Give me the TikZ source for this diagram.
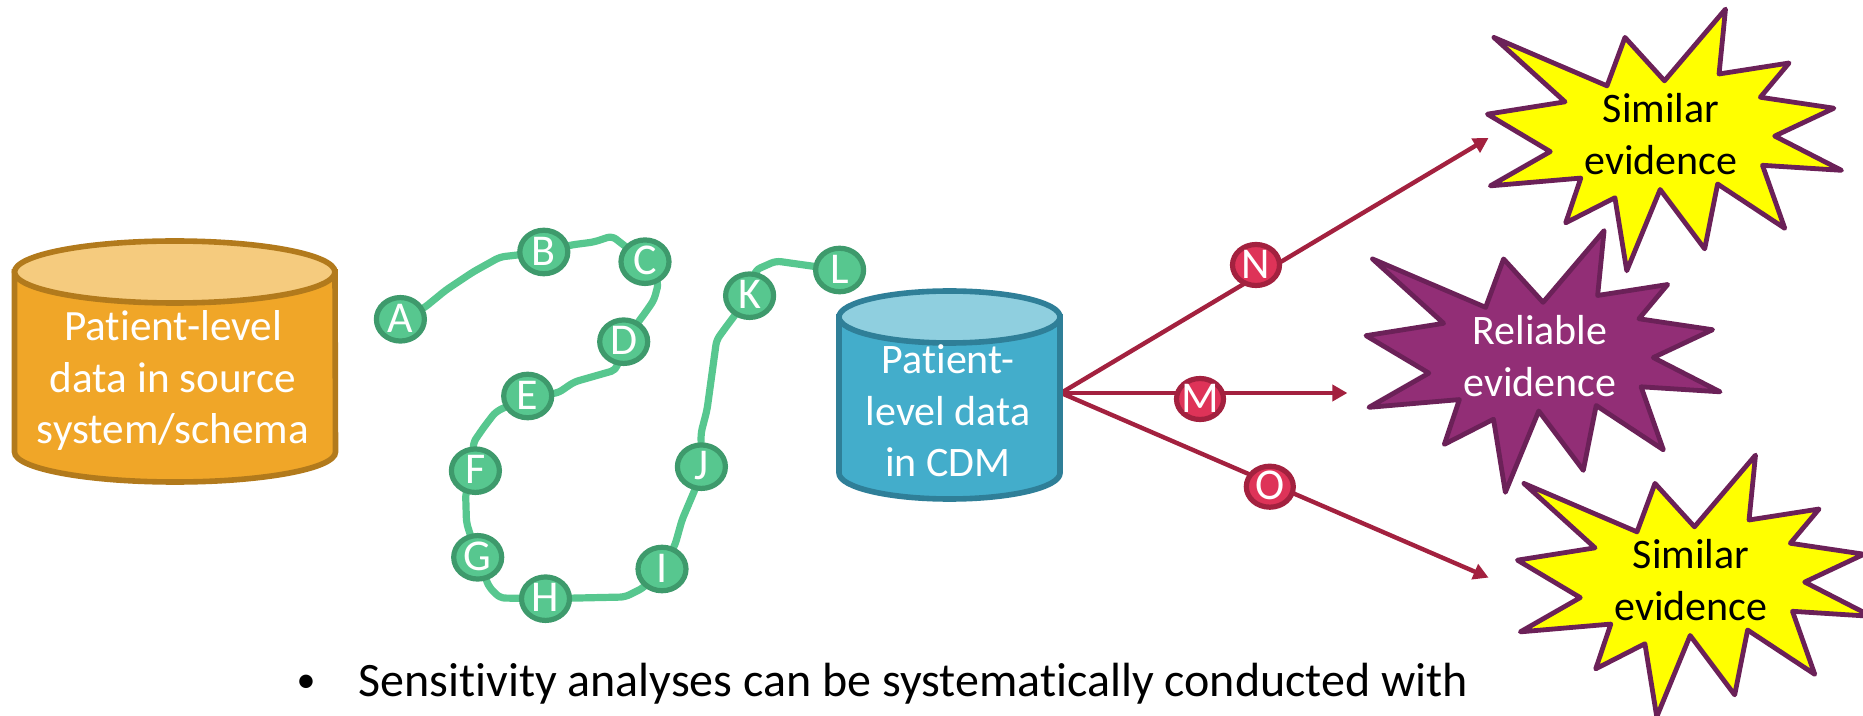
\documentclass[tikz,border=0pt]{standalone}
\usepackage{fontspec}
\setmainfont[Ligatures=CommonOff]{Carlito}
\usetikzlibrary{shapes.geometric,arrows.meta,backgrounds}
\definecolor{orangefill}{HTML}{F0A628}
\definecolor{orangeline}{HTML}{B27A1C}
\definecolor{orangetop}{HTML}{F5CB7E}
\definecolor{bluefill}{HTML}{43ADCB}
\definecolor{blueline}{HTML}{2F7F98}
\definecolor{bluetop}{HTML}{8FCFDF}
\definecolor{greenfill}{HTML}{57C78F}
\definecolor{greenline}{HTML}{3E9A6C}
\definecolor{redfill}{HTML}{DE3358}
\definecolor{redline}{HTML}{A3213F}
\definecolor{purplefill}{HTML}{922E76}
\definecolor{purpleline}{HTML}{6B2158}
\definecolor{pureyellow}{HTML}{FFFF00}
\newcommand{\burstpath}{(540,82)--(855,188)--(905,82)--(1015,177)--(1185,20)--(1167,162)--(1362,138)--(1282,213)--(1487,237)--(1322,298)--(1508,373)--(1288,362)--(1350,500)--(1163,403)--(1127,545)--(1003,415)--(910,593)--(877,433)--(740,488)--(782,390)--(530,407)--(697,332)--(522,250)--(738,223)--cycle}
\tikzset{
  labeltext/.style={font=\fontsize{21}{25.7}\selectfont,align=center,inner sep=0pt},
  burst/.style={line width=2.4pt,line join=round,draw=purpleline,x=0.17953pt,y=-0.22831pt},
  stepgreen/.style={ellipse,draw=greenline,fill=greenfill,text=white,line width=2.6pt,minimum width=24pt,minimum height=21.75pt,inner sep=0pt,outer sep=0pt,font=\fontsize{22}{25}\selectfont,text height=13.2pt,text depth=0pt},
  stepred/.style={ellipse,draw=redline,fill=redfill,text=white,line width=2.6pt,minimum width=23.5pt,minimum height=20.5pt,inner sep=0pt,outer sep=0pt,font=\fontsize{22}{25}\selectfont,text height=13.2pt,text depth=0pt},
  greenpath/.style={draw=greenfill,line width=3.6pt,rounded corners=2.5pt,line join=round,preaction={draw=black!50,opacity=.22,transform canvas={xshift=.7pt,yshift=-.9pt}}},
  redarrow/.style={draw=redline,line width=2.2pt,-{Triangle[length=7.5pt,width=8pt]}},
}
\begin{document}
\begin{tikzpicture}[x=0.5pt,y=-0.5pt]
\useasboundingbox (0,0) rectangle (1863,716);
\clip (0,0) rectangle (1863,716);
% source cylinder
\draw[orangeline,fill=orangefill,line width=2.8pt] (14.5,272) -- (14.5,452) arc[start angle=180,end angle=360,x radius=80.25pt,y radius=15pt] -- (335,272) -- cycle;
\draw[orangeline,fill=orangetop,line width=2.8pt] (174.75,272) ellipse[x radius=80.1pt,y radius=15.5pt];
\node[labeltext,text=white,font=\fontsize{21.6}{25.7}\selectfont] (src) at (173,380.5) {Patient-level\\data in source\\system/schema};
% CDM cylinder
\draw[blueline,fill=bluefill,line width=2.8pt] (839,317) -- (839,473) arc[start angle=180,end angle=360,x radius=55.25pt,y radius=13pt] -- (1060,317) -- cycle;
\draw[blueline,fill=bluetop,line width=2.8pt] (949.5,317) ellipse[x radius=55.25pt,y radius=13pt];
\node[labeltext,text=white] (cdm) at (948,411) {Patient-\\level data\\in CDM};
\coordinate (origin) at (1061,393);
\coordinate (endN) at (1488.5,138);
\coordinate (endM) at (1347.4,393);
\coordinate (endO) at (1488.5,577.6);
% bursts
\begin{scope}[xshift=650pt]
\draw[burst,fill=pureyellow] \burstpath;
\end{scope}
\begin{scope}[xshift=589.3pt,yshift=-110.75pt]
\draw[burst,fill=purplefill] \burstpath;
\end{scope}
\begin{scope}[xshift=665pt,yshift=-223pt]
\draw[burst,fill=pureyellow] \burstpath;
\end{scope}
\node[labeltext] (sim1) at (1661,134) {Similar\\evidence};
\node[labeltext,text=white] (rel) at (1540,356) {Reliable\\evidence};
\node[labeltext] (sim2) at (1691,580) {Similar\\evidence};
% steps
\node[stepgreen] (A) at (400.4,319.3) {\makebox[0pt]{A}};
\node[stepgreen] (B) at (543.8,252) {\makebox[0pt]{B}};
\node[stepgreen] (C) at (645,261.7) {\makebox[0pt]{C}};
\node[stepgreen] (D) at (623.7,341.7) {\makebox[0pt]{D}};
\node[stepgreen] (E) at (527.7,396) {\makebox[0pt]{E}};
\node[stepgreen] (F) at (475.4,470.7) {\makebox[0pt]{F}};
\node[stepgreen] (G) at (477.7,557.3) {\makebox[0pt]{G}};
\node[stepgreen] (H) at (545.5,598.7) {\makebox[0pt]{H}};
\node[stepgreen] (I) at (662,569) {\makebox[0pt]{I}};
\node[stepgreen] (J) at (701.4,466.7) {\makebox[0pt]{J}};
\node[stepgreen] (K) at (749.6,295.7) {\makebox[0pt]{K}};
\node[stepgreen] (L) at (839.6,270) {\makebox[0pt]{L}};
\node[stepred] (N) at (1256,265) {\makebox[0pt]{N}};
\node[stepred] (M) at (1200,399) {\makebox[0pt]{M}};
\node[stepred] (O) at (1269.8,486.7) {\makebox[0pt]{O}};
\begin{pgfonlayer}{background}
\path[greenpath] (A.center) -- (424,308) -- (446,290) -- (473,272) -- (500,257) -- (B.center);
\path[greenpath] (B.center) -- (571,245) -- (594,242) -- (612,236) -- (C.center);
\path[greenpath] (C.center) -- (658.5,283) -- (654,300) -- (645,313) -- (D.center);
\path[greenpath] (D.center) -- (616,370) -- (574,382) -- (558,393) -- (E.center);
\path[greenpath] (E.center) -- (495.5,412) -- (484,427) -- (473,443) -- (F.center);
\path[greenpath] (F.center) -- (465.6,493) -- (466.5,523) -- (G.center);
\path[greenpath] (G.center) -- (489,587) -- (500,598) -- (H.center);
\path[greenpath] (H.center) -- (625,597) -- (643,588) -- (I.center);
\path[greenpath] (I.center) -- (675,545) -- (682,520) -- (696,487) -- (J.center);
\path[greenpath] (J.center) -- (701,433) -- (707,410) -- (716.6,340) -- (726,327) -- (K.center);
\path[greenpath] (K.center) -- (755.6,270) -- (776,261) -- (L.center);
\draw[redarrow] (origin) -- (endN);
\draw[redarrow] (origin) -- (endM);
\draw[redarrow] (origin) -- (endO);
\end{pgfonlayer}
% bullet text
\node[inner sep=0pt,anchor=base,font=\fontsize{19}{24}\selectfont] (bul) at (306,692) {•};
\node[inner sep=0pt,anchor=base west,font=\fontsize{24}{28}\selectfont] (txt) at (358,696) {Sensitivity analyses can be systematically conducted with};
\end{tikzpicture}
\end{document}
